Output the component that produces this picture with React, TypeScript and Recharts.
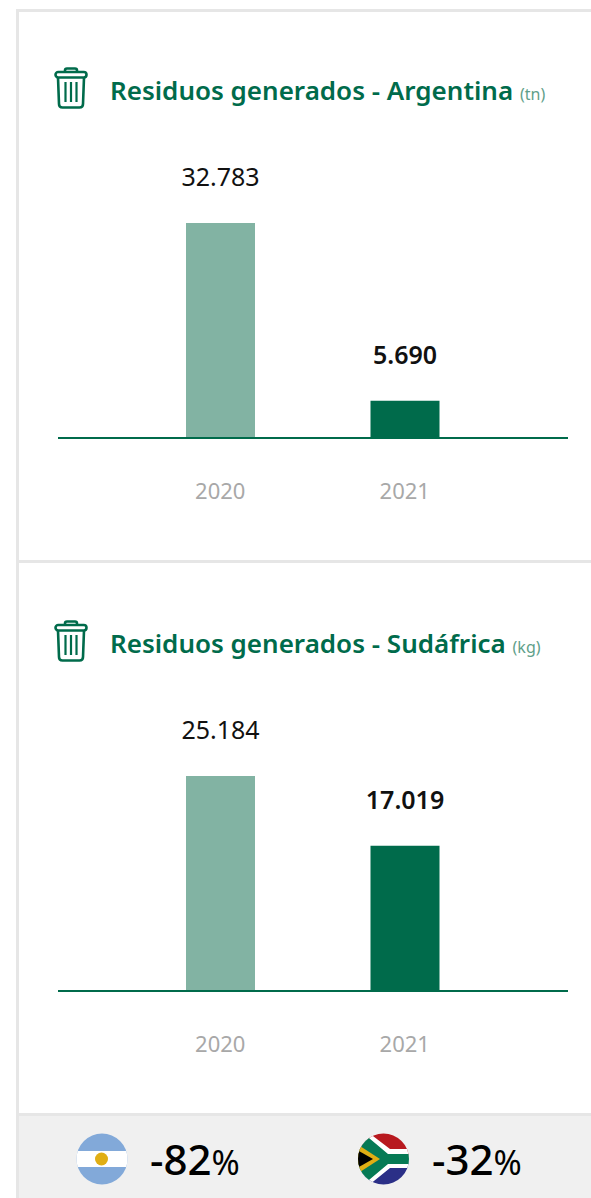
import { Bar, BarChart, Cell, XAxis, YAxis } from "recharts";

const years = ["2020", "2021"];
const argentinaValues = [32783, 5690];
const sudafricaValues = [25184, 17019];
const barColors = ["#82b3a3", "#006b4b"];
const labelWeights = [400, 600];

const GREEN = "#006b4b";
const FONT = "'Noto Sans', sans-serif";

const formatValue = (v: number) => v.toLocaleString("de-DE");

function TrashIcon({ top }: { top: number }) {
  return (
    <svg
      width={34}
      height={42}
      viewBox="0 0 34 42"
      style={{ position: "absolute", left: 54, top }}
      fill="none"
      stroke={GREEN}
      strokeWidth={2.6}
    >
      <path d="M11 5 V3.5 Q11 1.5 13 1.5 H21 Q23 1.5 23 3.5 V5" />
      <rect x={1.5} y={5} width={31} height={5.5} rx={2.75} />
      <path d="M4 10.5 L5 37 Q5 40.5 8.5 40.5 H25.5 Q29 40.5 29 37 L30 10.5" />
      <path d="M11.5 15 V35 M17 15 V35 M22.5 15 V35" strokeWidth={2.2} />
    </svg>
  );
}

function Panel({
  top,
  region,
  unit,
  values,
}: {
  top: number;
  region: string;
  unit: string;
  values: number[];
}) {
  const data = years.map((year, i) => ({ year, value: values[i] }));
  const renderLabel = (props: any) => (
    <text
      x={props.x + props.width / 2}
      y={props.y - 47}
      textAnchor="middle"
      dominantBaseline="central"
      fontFamily={FONT}
      fontSize={25}
      fontWeight={labelWeights[props.index]}
      fill="#111111"
    >
      {formatValue(props.value)}
    </text>
  );

  return (
    <>
      <TrashIcon top={top + 57} />
      <div
        style={{
          position: "absolute",
          left: 110,
          top: top + 62,
          fontFamily: FONT,
          fontSize: 26,
          lineHeight: "36px",
          fontWeight: 600,
          color: GREEN,
          whiteSpace: "nowrap",
        }}
      >
        Residuos generados - {region}{" "}
        <span style={{ fontSize: 16, fontWeight: 400, color: "#5f9f8a" }}>({unit})</span>
      </div>
      <div style={{ position: "absolute", left: 0, top: top + 120 }}>
        <BarChart
          width={591}
          height={400}
          data={data}
          margin={{ top: 93, right: 23, bottom: 0, left: 58 }}
        >
          <YAxis hide domain={[0, Math.max(...values)]} />
          <XAxis
            dataKey="year"
            height={92}
            padding={{ left: 70, right: 71 }}
            stroke={GREEN}
            strokeWidth={2}
            tickLine={false}
            tick={{ fontFamily: FONT, fontSize: 22, fill: "#a8a8a8" }}
            tickMargin={39}
          />
          <Bar dataKey="value" barSize={69} isAnimationActive={false} label={renderLabel}>
            {data.map((d, i) => (
              <Cell key={d.year} fill={barColors[i]} />
            ))}
          </Bar>
        </BarChart>
      </div>
    </>
  );
}

function ArgentinaFlag() {
  return (
    <svg width={52} height={52} viewBox="0 0 52 52" style={{ position: "absolute", left: 76, top: 1133 }}>
      <clipPath id="ar">
        <circle cx={26} cy={26} r={25.5} />
      </clipPath>
      <g clipPath="url(#ar)">
        <rect width={52} height={52} fill="#82a9d9" />
        <rect y={18} width={52} height={16} fill="#ffffff" />
        <circle cx={25.5} cy={26} r={6.5} fill="#e0ae14" />
      </g>
    </svg>
  );
}

function SouthAfricaFlag() {
  return (
    <svg width={52} height={52} viewBox="0 0 52 52" style={{ position: "absolute", left: 357, top: 1133 }}>
      <clipPath id="za">
        <circle cx={26.5} cy={26} r={25.5} />
      </clipPath>
      <g clipPath="url(#za)">
        <rect width={52} height={26} fill="#b8191f" />
        <rect y={26} width={52} height={26} fill="#2b2f87" />
        <path d="M12 0 L33 16 H52 V35 H33 L12 52 H0 V0 Z" fill="#ffffff" />
        <path d="M6 0 L31 21 H52 V31 H31 L6 52 H0 V0 Z" fill="#067a55" />
        <path d="M0 11 L23 26 L0 41 Z" fill="#e0ae14" />
        <path d="M0 17 L16 26 L0 35 Z" fill="#000000" />
      </g>
    </svg>
  );
}

function Percent({ left, value }: { left: number; value: string }) {
  return (
    <div
      style={{
        position: "absolute",
        left,
        top: 1133,
        fontFamily: FONT,
        fontSize: 42,
        fontWeight: 500,
        lineHeight: "52px",
        color: "#000000",
        whiteSpace: "nowrap",
      }}
    >
      {value}
      <span style={{ fontSize: 34, fontWeight: 400 }}>%</span>
    </div>
  );
}

export default function App() {
  return (
    <div
      style={{
        position: "fixed",
        left: 0,
        top: 0,
        width: 591,
        height: 1198,
        overflow: "hidden",
        background: "#ffffff",
      }}
    >
      <div style={{ position: "absolute", left: 16, top: 9, width: 575, height: 3, background: "#e6e6e6" }} />
      <div style={{ position: "absolute", left: 16, top: 560, width: 575, height: 3, background: "#e6e6e6" }} />
      <div
        style={{
          position: "absolute",
          left: 16,
          top: 1113,
          width: 575,
          height: 85,
          background: "#f0f0f0",
          borderTop: "3px solid #e6e6e6",
          boxSizing: "border-box",
        }}
      />
      <div style={{ position: "absolute", left: 16, top: 9, width: 3, height: 1189, background: "#e6e6e6" }} />
      <Panel top={10} region="Argentina" unit="tn" values={argentinaValues} />
      <Panel top={563} region="Sudáfrica" unit="kg" values={sudafricaValues} />
      <ArgentinaFlag />
      <SouthAfricaFlag />
      <Percent left={150} value="-82" />
      <Percent left={432} value="-32" />
    </div>
  );
}
